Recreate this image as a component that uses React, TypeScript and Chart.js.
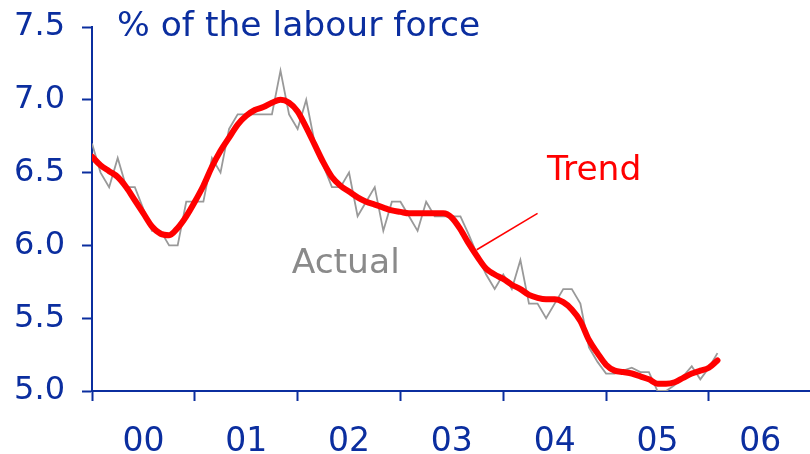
import React, { useEffect, useRef } from "react";
import { Chart, registerables } from "chart.js";

Chart.register(...registerables);

// ---- data (monthly, Jan 2000 = month 0) ----
const yearLabels = ["00", "01", "02", "03", "04", "05", "06"];
const xTickMonths = [0, 6, 12, 18, 24, 30, 36, 42, 48, 54, 60, 66, 72, 78];
const yTickValues = [5.0, 5.5, 6.0, 6.5, 7.0, 7.5];

const actual = [
  6.7, 6.5, 6.4, 6.6, 6.4, 6.4, 6.25, 6.1, 6.1, 6.0, 6.0, 6.3,
  6.3, 6.3, 6.6, 6.5, 6.8, 6.9, 6.9, 6.9, 6.9, 6.9, 7.2, 6.9,
  6.8, 7.0, 6.7, 6.55, 6.4, 6.4, 6.5, 6.2, 6.3, 6.4, 6.1, 6.3,
  6.3, 6.2, 6.1, 6.3, 6.2, 6.2, 6.2, 6.2, 6.07, 5.93, 5.8, 5.7,
  5.8, 5.7, 5.9, 5.6, 5.6, 5.5, 5.6, 5.7, 5.7, 5.6, 5.3, 5.2,
  5.12, 5.12, 5.14, 5.16, 5.13, 5.13, 5.0, 5.0, 5.04, 5.1, 5.17, 5.08,
  5.16, 5.26,
];

const trend = [
  6.61, 6.55, 6.51, 6.47, 6.4, 6.31, 6.22, 6.13, 6.08, 6.07, 6.12, 6.2,
  6.3, 6.41, 6.54, 6.65, 6.74, 6.83, 6.89, 6.93, 6.95, 6.98, 7.0, 6.98,
  6.92, 6.81, 6.69, 6.57, 6.47, 6.41, 6.37, 6.33, 6.3, 6.28, 6.26, 6.24,
  6.23, 6.22, 6.22, 6.22, 6.22, 6.22, 6.19, 6.11, 6.01, 5.92, 5.84, 5.8,
  5.77, 5.73, 5.7, 5.66, 5.64, 5.63, 5.63, 5.61, 5.56, 5.48, 5.35, 5.26,
  5.18, 5.14, 5.13, 5.12, 5.1, 5.08, 5.05, 5.05, 5.06, 5.09, 5.12, 5.14,
  5.16, 5.21,
];

// pointer line from the trend label to the trend series (data coordinates)
const pointerX = [44.9, 52.0];
const pointerY = [5.97, 6.22];

const unitLabel = "% of the labour force";
const actualLabel = "Actual";
const trendLabel = "Trend";
const actualLabelAt = [23.3, 5.81];
const trendLabelAt = [53.1, 6.45];

// ---- styles ----
const BLUE = "#0b2e9f";
const GRAY = "#999999";
const LABEL_GRAY = "#8a8a8a";
const RED = "#ff0000";
const FONT = '"DejaVu Sans", Verdana, sans-serif';
const FS = 32;
const LABEL_FS = 34.5;

const textPlugin = {
  id: "texts",
  afterDatasetsDraw(chart: any) {
    const { ctx, chartArea, scales } = chart;
    const x = scales.x;
    const y = scales.y;
    ctx.save();
    ctx.font = `${LABEL_FS}px ${FONT}`;
    ctx.textAlign = "left";
    ctx.textBaseline = "alphabetic";
    ctx.fillStyle = BLUE;
    ctx.fillText(unitLabel, chartArea.left + 25, chartArea.top + 9);
    ctx.fillStyle = LABEL_GRAY;
    ctx.fillText(
      actualLabel,
      x.getPixelForValue(actualLabelAt[0]),
      y.getPixelForValue(actualLabelAt[1])
    );
    ctx.fillStyle = RED;
    ctx.fillText(
      trendLabel,
      x.getPixelForValue(trendLabelAt[0]),
      y.getPixelForValue(trendLabelAt[1])
    );
    ctx.restore();
  },
};

export default function App() {
  const ref = useRef<HTMLCanvasElement | null>(null);

  useEffect(() => {
    document.body.style.margin = "0";
    if (!ref.current) return;
    const chart = new Chart(ref.current, {
      type: "line",
      data: {
        datasets: [
          {
            label: "Actual",
            data: actual.map((v, i) => ({ x: i, y: v })),
            borderColor: GRAY,
            borderWidth: 1.8,
            pointRadius: 0,
            tension: 0,
            order: 2,
          },
          {
            label: "Trend",
            data: trend.map((v, i) => ({ x: i, y: v })),
            borderColor: RED,
            borderWidth: 6,
            pointRadius: 0,
            tension: 0.4,
            cubicInterpolationMode: "monotone",
            borderCapStyle: "round",
            borderJoinStyle: "round",
            order: 1,
          },
          {
            label: "pointer",
            data: pointerX.map((v, i) => ({ x: v, y: pointerY[i] })),
            borderColor: RED,
            borderWidth: 1.5,
            pointRadius: 0,
            order: 0,
          },
        ],
      } as any,
      options: {
        animation: false,
        responsive: false,
        maintainAspectRatio: false,
        layout: { padding: { top: 27, right: 0, left: 0, bottom: 0 } },
        plugins: {
          legend: { display: false },
          tooltip: { enabled: false },
          title: { display: false },
        },
        scales: {
          x: {
            type: "linear",
            min: 0,
            max: 83.8,
            afterBuildTicks: (scale: any) => {
              scale.ticks = xTickMonths.map((v) => ({ value: v }));
            },
            afterFit: (scale: any) => {
              scale.height = 63;
              scale.paddingLeft = 0;
              scale.paddingRight = 0;
            },
            ticks: {
              autoSkip: false,
              maxRotation: 0,
              minRotation: 0,
              padding: 22,
              color: BLUE,
              font: { family: FONT, size: 33 },
              callback: (v: any) =>
                Number(v) % 12 === 6 ? yearLabels[(Number(v) - 6) / 12] : "",
            },
            grid: {
              drawOnChartArea: false,
              drawTicks: true,
              tickLength: 10,
              tickWidth: 2,
              tickColor: (c: any) =>
                c.tick && c.tick.value % 12 === 0 ? BLUE : "rgba(0,0,0,0)",
            },
            border: { display: true, color: BLUE, width: 2 },
          },
          y: {
            type: "linear",
            min: 5,
            max: 7.5,
            afterBuildTicks: (scale: any) => {
              scale.ticks = yTickValues.map((v) => ({ value: v }));
            },
            afterFit: (scale: any) => {
              scale.width = 92;
              scale.paddingTop = 0;
              scale.paddingBottom = 0;
            },
            ticks: {
              padding: 17,
              color: BLUE,
              font: { family: FONT, size: FS },
              callback: (v: any) => Number(v).toFixed(1),
            },
            grid: {
              drawOnChartArea: false,
              drawTicks: true,
              tickLength: 10,
              tickWidth: 2,
              tickColor: BLUE,
            },
            border: { display: true, color: BLUE, width: 2 },
          },
        },
      } as any,
      plugins: [textPlugin],
    });
    return () => chart.destroy();
  }, []);

  return (
    <div style={{ position: "absolute", left: 0, top: 0, width: 810, height: 454, background: "#fff" }}>
      <canvas ref={ref} width={810} height={454} style={{ display: "block" }} />
    </div>
  );
}
